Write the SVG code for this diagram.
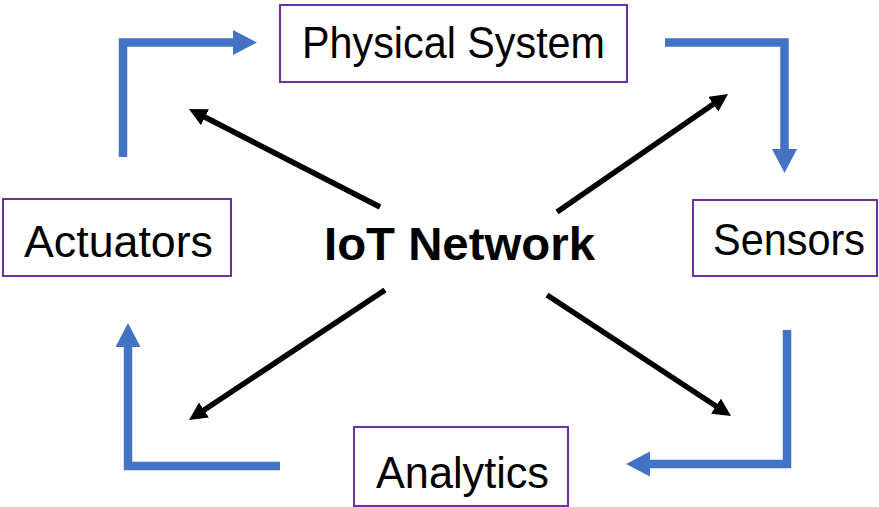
<svg xmlns="http://www.w3.org/2000/svg" width="879" height="507" viewBox="0 0 879 507">
  <defs>
    <style>
      .box { fill: #ffffff; stroke: #7030A0; stroke-width: 2; }
      .label { font-family: "Liberation Sans", Arial, sans-serif; font-size: 45px; fill: #000000; text-anchor: middle; }
      .hub { font-family: "Liberation Sans", Arial, sans-serif; font-size: 47px; font-weight: bold; fill: #000000; text-anchor: middle; }
      .flow { fill: none; stroke: #4472C4; stroke-width: 8.5; stroke-linejoin: miter; }
      .link { fill: none; stroke: #000000; stroke-width: 5.5; }
    </style>
    <marker id="blueHead" markerUnits="userSpaceOnUse" markerWidth="26" markerHeight="26" refX="2" refY="12.5" orient="auto">
      <path d="M0,0 L24,12.5 L0,25 Z" fill="#4472C4"/>
    </marker>
    <marker id="blackHead" markerUnits="userSpaceOnUse" markerWidth="20" markerHeight="20" refX="3" refY="9" orient="auto">
      <path d="M0,0 L18,9 L0,18 Z" fill="#000000"/>
    </marker>
  </defs>

  <!-- connectors -->
  <g id="connectors">
    <!-- outer cycle -->
    <polyline class="flow" points="123,157 123,42.5 235,42.5" marker-end="url(#blueHead)"/>
    <polyline class="flow" points="665,42.5 784.5,42.5 784.5,151" marker-end="url(#blueHead)"/>
    <polyline class="flow" points="787,330 787,464 648,464" marker-end="url(#blueHead)"/>
    <polyline class="flow" points="280,466 128,466 128,345" marker-end="url(#blueHead)"/>
    <!-- hub spokes -->
    <line class="link" x1="380" y1="207" x2="202.3" y2="115.8" marker-end="url(#blackHead)"/>
    <line class="link" x1="557" y1="212" x2="715.7" y2="102.5" marker-end="url(#blackHead)"/>
    <line class="link" x1="385" y1="290" x2="201.5" y2="411.7" marker-end="url(#blackHead)"/>
    <line class="link" x1="547" y1="295" x2="718.5" y2="407.8" marker-end="url(#blackHead)"/>
  </g>

  <g id="physical-system">
    <rect class="box" x="280" y="5" width="347" height="77"/>
    <text class="label" x="453.5" y="58" textLength="303" lengthAdjust="spacingAndGlyphs">Physical System</text>
  </g>

  <g id="actuators">
    <rect class="box" x="3" y="199" width="228" height="77"/>
    <text class="label" x="118.5" y="257" textLength="189" lengthAdjust="spacingAndGlyphs">Actuators</text>
  </g>

  <g id="sensors">
    <rect class="box" x="693" y="200" width="184" height="76"/>
    <text class="label" x="789" y="255" textLength="152" lengthAdjust="spacingAndGlyphs">Sensors</text>
  </g>

  <g id="analytics">
    <rect class="box" x="354" y="427" width="214" height="79"/>
    <text class="label" x="462.5" y="488" textLength="173" lengthAdjust="spacingAndGlyphs">Analytics</text>
  </g>

  <g id="iot-network">
    <text class="hub" x="459.5" y="260" textLength="271" lengthAdjust="spacingAndGlyphs">IoT Network</text>
  </g>
</svg>
